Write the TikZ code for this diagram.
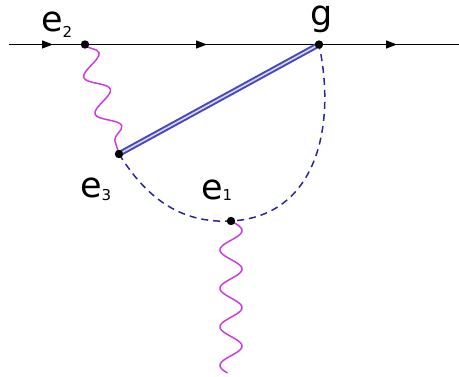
\documentclass[tikz,border=0pt]{standalone}
\usepackage{fontspec}
\setmainfont{DejaVu Sans}
\usetikzlibrary{arrows.meta,decorations.pathmorphing,decorations.markings}
\definecolor{propblue}{RGB}{72,72,190}
\definecolor{propfill}{RGB}{215,215,245}
\definecolor{dashblue}{RGB}{40,40,150}
\definecolor{wavemag}{RGB}{205,60,220}
\newcommand\elab[2]{e\raisebox{-#2}{\fontsize{15}{15}\selectfont #1}}
\tikzset{
  lbl/.style={inner sep=0pt,font=\fontsize{35}{35}\selectfont},
  fermion/.style={line width=1.2pt,black,postaction={decorate},
    decoration={markings,
      mark=at position 44pt with {\arrow{Triangle[length=11pt,width=8pt]}},
      mark=at position 198pt with {\arrow{Triangle[length=11pt,width=8pt]}},
      mark=at position 388pt with {\arrow{Triangle[length=11pt,width=8pt]}}}},
  wave/.style={wavemag,line width=1.5pt},
  snakewave/.style={wave,decorate,decoration={snake,segment length=38.3pt,amplitude=11pt}},
  heavy/.style={propblue,line width=2pt,double=propfill,double distance=1.6pt},
  dasharc/.style={dashblue,line width=1.5pt,dash pattern=on 7pt off 5pt},
  vdot/.style={fill=black}
}
\begin{document}
\begin{tikzpicture}[x=1pt,y=1pt]
\useasboundingbox (0,0) rectangle (459,-377);
\coordinate (L) at (9,-44.5);
\coordinate (R) at (459,-44.5);
\coordinate (e2) at (85,-44.5);
\coordinate (g) at (319,-44.5);
\coordinate (e3) at (119,-154);
\coordinate (e1) at (231,-221);
% external line
\draw[fermion] (L) -- (e2) -- (g) -- (R);
% wavy lines
\draw[snakewave] (e2) -- (e3);
\draw[wave,shift={(e1)}] plot[domain=0:152,samples=200,smooth] ({11*sin(\x/38.5*360)},{-\x});
% dashed propagator
\draw[dasharc] (e3) to[out=-58,in=183] (e1) to[out=3,in=-78,looseness=1.1] (g);
% heavy double line
\draw[heavy] (e3) -- (g);
% vertices
\foreach \v in {e1,e2,e3,g} \fill[vdot] (\v) circle (4.2pt);
% labels
\node[lbl,anchor=base west] (le2) at (41,-32) {\elab{2}{6pt}};
\node[lbl,anchor=base] (lg) at (322,-26) {g};
\node[lbl,anchor=base west] (le3) at (80,-198) {\elab{3}{3pt}};
\node[lbl,anchor=base west] (le1) at (201,-200) {\elab{1}{1pt}};
\end{tikzpicture}
\end{document}
